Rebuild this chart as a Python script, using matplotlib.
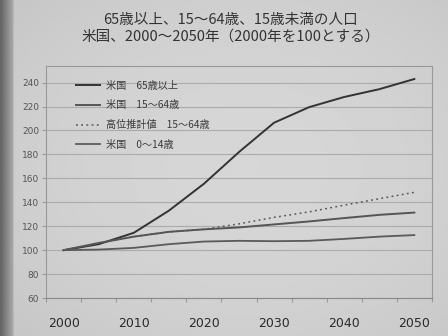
import matplotlib
matplotlib.use("Agg")
import matplotlib.pyplot as plt
import numpy as np

plt.rcParams['font.family'] = ['Noto Sans CJK JP', 'DejaVu Sans']

years = [2000, 2005, 2010, 2015, 2020, 2025, 2030, 2035, 2040, 2045, 2050]
age65 = [100, 105, 114.5, 133, 155.5, 182, 206.5, 219.5, 228, 234.5, 243]
age15_64 = [100, 106, 111.3, 115.3, 117.4, 119, 121.5, 124, 126.8, 129.5, 131.4]
high15_64 = [100, 106, 111.3, 115.3, 117.4, 122, 127.4, 132, 137.6, 143, 148.3]
age0_14 = [100, 100.5, 101.9, 105, 107.2, 107.8, 107.5, 107.8, 109.4, 111.3, 112.6]
labels = ['米国　65歳以上', '米国　15～64歳', '高位推計値　15～64歳', '米国　0～14歳']
title = '65歳以上、15～64歳、15歳未満の人口\n米国、2000～2050年（2000年を100とする）'
yticks = [60, 80, 100, 120, 140, 160, 180, 200, 220, 240]
xlabels = [2000, 2010, 2020, 2030, 2040, 2050]

fig = plt.figure(figsize=(4.48, 3.36), dpi=100)
fig.patch.set_facecolor('#d0d0d0')

# photo-like background shading
bg = fig.add_axes([0, 0, 1, 1], zorder=-10)
xx, yy = np.meshgrid(np.linspace(0, 1, 200), np.linspace(0, 1, 150))
shade = 0.84 - 0.12 * ((xx - 0.55) ** 2 + (yy - 0.5) ** 2)
shade = np.where(xx < 0.03, 0.40 + xx * 10, shade)
bg.imshow(shade, cmap='gray', vmin=0, vmax=1, aspect='auto', extent=[0, 1, 0, 1])
bg.axis('off')

ax = fig.add_axes([0.103, 0.113, 0.861, 0.691])
ax.set_facecolor('none')
ax.plot(years, high15_64, color='#555555', lw=1.1, ls=(0, (1.2, 2.2)), label=labels[2], zorder=2)
ax.plot(years, age65, color='#333333', lw=1.4, label=labels[0], zorder=3)
ax.plot(years, age15_64, color='#555555', lw=1.4, label=labels[1], zorder=3)
ax.plot(years, age0_14, color='#5a5a5a', lw=1.3, label=labels[3], zorder=3)

ax.set_xlim(1997.5, 2052.5)
ax.set_ylim(60, 254)
ax.set_yticks(yticks)
ax.set_yticklabels([str(v) for v in yticks], fontsize=6.5, color='#555555', family='DejaVu Sans')
ax.yaxis.grid(True, color='#ababab', lw=0.8)
ax.set_axisbelow(True)
ax.tick_params(axis='y', length=3, color='#999999', pad=2)

ax.set_xticks(np.arange(1997.5, 2053, 5))
ax.set_xticklabels([])
ax.tick_params(axis='x', length=3, color='#999999', direction='out')
for xv in xlabels:
    ax.text(xv, -0.08, str(xv), transform=ax.get_xaxis_transform(), ha='center', va='top',
            fontsize=9, color='#2a2a2a', family='DejaVu Sans')

for s in ax.spines.values():
    s.set_color('#999999')
    s.set_linewidth(0.8)
ax.spines['bottom'].set_color('#888888')

h, l = ax.get_legend_handles_labels()
order = [1, 2, 0, 3]
leg = ax.legend([h[i] for i in order], [l[i] for i in order], loc='upper left',
                bbox_to_anchor=(0.055, 0.975), frameon=False, fontsize=7.3,
                handlelength=2.3, labelspacing=0.95, handletextpad=0.6)
for t in leg.get_texts():
    t.set_color('#3a3a3a')

fig.text(0.515, 0.962, title, ha='center', va='top', fontsize=10.5, color='#333333',
         linespacing=1.3)

fig.savefig('out.png', dpi=100, facecolor=fig.get_facecolor())
